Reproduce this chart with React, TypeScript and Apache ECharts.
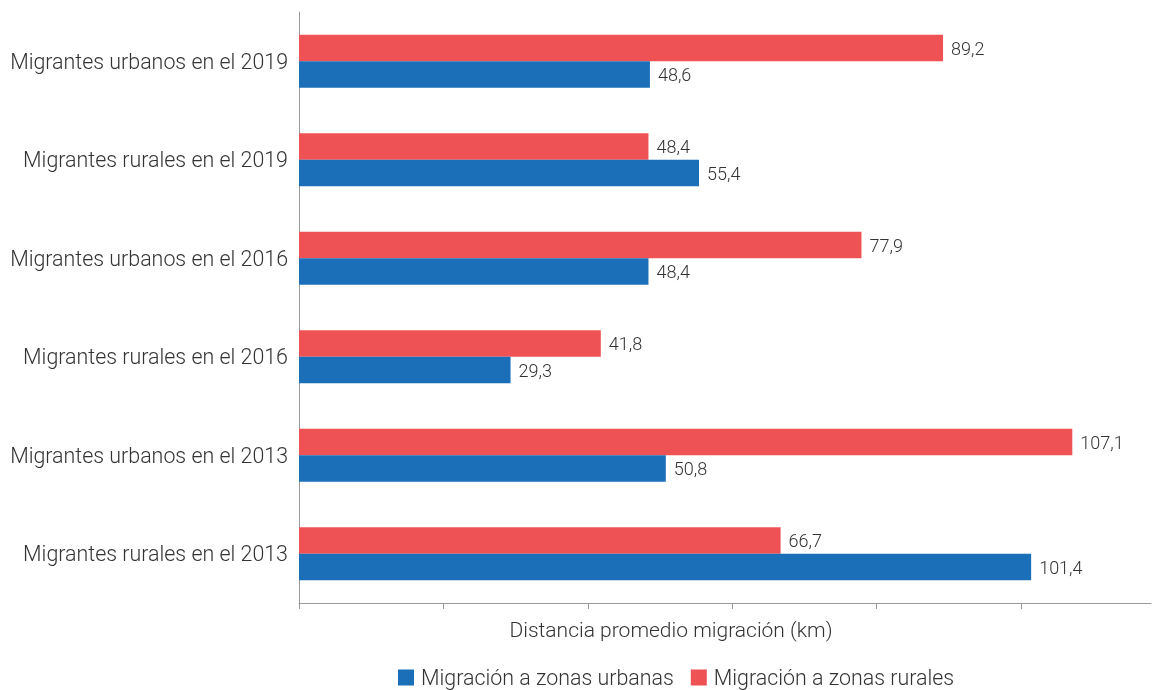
import React, { useEffect, useRef } from "react";
import * as echarts from "echarts";

const categories = [
  "Migrantes rurales en el 2013",
  "Migrantes urbanos en el 2013",
  "Migrantes rurales en el 2016",
  "Migrantes urbanos en el 2016",
  "Migrantes rurales en el 2019",
  "Migrantes urbanos en el 2019",
];
const urbanValues = [101.4, 50.8, 29.3, 48.4, 55.4, 48.6];
const ruralValues = [66.7, 107.1, 41.8, 77.9, 48.4, 89.2];
const tickValues = [0, 20, 40, 60, 80, 100];
const seriesNames = ["Migración a zonas urbanas", "Migración a zonas rurales"];
const axisTitle = "Distancia promedio migración (km)";

const FONT = "Roboto";
const TEXT = "#333333";
const WEIGHT = 300;

export default function App() {
  const ref = useRef<HTMLDivElement>(null);
  useEffect(() => {
    if (!ref.current) return;
    const chart = echarts.init(ref.current, undefined, { renderer: "svg" });
    const fmt = (p: any) => String(p.value).replace(".", ",");
    const label = {
      show: true,
      position: "right",
      distance: 8,
      color: TEXT,
      fontFamily: FONT,
      fontWeight: WEIGHT,
      fontSize: 18,
      formatter: fmt,
    };
    chart.setOption({
      animation: false,
      textStyle: { fontFamily: FONT },
      grid: { left: 299, right: 1, top: 12, bottom: 87, containLabel: false },
      legend: {
        data: seriesNames,
        left: 398,
        top: 667,
        padding: 0,
        itemWidth: 16,
        itemHeight: 16,
        itemGap: 17,
        icon: "rect",
        textStyle: {
          fontFamily: FONT,
          fontWeight: WEIGHT,
          fontSize: 21.4,
          color: TEXT,
          padding: [0, 0, 0, 2],
        },
      },
      graphic: [
        {
          type: "text",
          x: 671,
          y: 630,
          style: {
            text: axisTitle,
            align: "center",
            verticalAlign: "middle",
            font: `${WEIGHT} 21px ${FONT}`,
            fill: TEXT,
          },
        },
      ],
      xAxis: {
        type: "value",
        min: 0,
        max: 118,
        interval: 20,
        axisLine: { show: true, lineStyle: { color: "#9a9a9a", width: 1 } },
        axisTick: {
          show: true,
          customValues: tickValues,
          length: 6,
          lineStyle: { color: "#9a9a9a" },
        },
        axisLabel: { show: false },
        splitLine: { show: false },
      },
      yAxis: {
        type: "category",
        data: categories,
        axisLine: { show: true, lineStyle: { color: "#9a9a9a", width: 1 } },
        axisTick: { show: false },
        axisLabel: {
          color: TEXT,
          fontFamily: FONT,
          fontWeight: WEIGHT,
          fontSize: 21.4,
          margin: 11,
        },
      },
      series: [
        {
          name: seriesNames[1],
          type: "bar",
          data: ruralValues,
          barWidth: 26.5,
          barGap: "0%",
          itemStyle: { color: "#EF5254" },
          label,
        },
        {
          name: seriesNames[0],
          type: "bar",
          data: urbanValues,
          barWidth: 26.5,
          barGap: "0%",
          itemStyle: { color: "#1B6FB8" },
          label,
        },
      ],
    });
    return () => chart.dispose();
  }, []);
  return (
    <div
      ref={ref}
      style={{ position: "fixed", left: 0, top: 0, width: 1152, height: 690 }}
    />
  );
}
